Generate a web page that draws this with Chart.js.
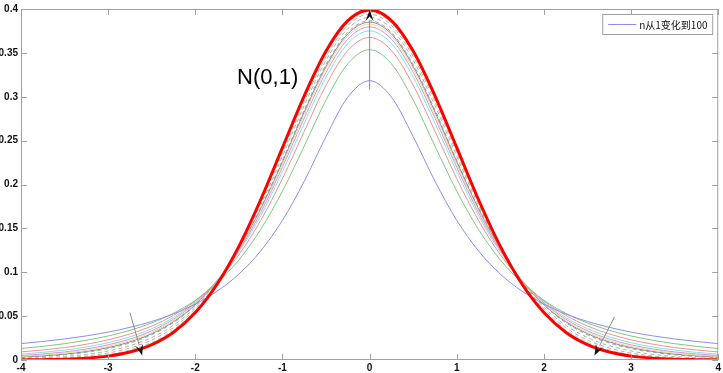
<!DOCTYPE html>
<html>
<head>
<meta charset="utf-8">
<script src="https://cdn.jsdelivr.net/npm/chart.js@4"></script>
<style>
  body { margin: 0; background: #fff; }
  #wrap { width: 723px; height: 373px; }
</style>
</head>
<body>
<div id="wrap"><canvas id="tChart"></canvas></div>
<script>
const xValues = [-4,-3.75,-3.5,-3.25,-3,-2.75,-2.5,-2.25,-2,-1.75,-1.5,-1.25,-1,-0.75,-0.5,-0.25,0,0.25,0.5,0.75,1,1.25,1.5,1.75,2,2.25,2.5,2.75,3,3.25,3.5,3.75,4];

const normal = [0.0001,0.0004,0.0009,0.0020,0.0044,0.0091,0.0175,0.0317,0.0540,0.0863,0.1295,0.1826,0.2420,0.3011,0.3521,0.3867,0.3989,0.3867,0.3521,0.3011,0.2420,0.1826,0.1295,0.0863,0.0540,0.0317,0.0175,0.0091,0.0044,0.0020,0.0009,0.0004,0.0001];
const tN1 = [0.0187,0.0211,0.0240,0.0275,0.0318,0.0372,0.0439,0.0525,0.0637,0.0784,0.0979,0.1242,0.1592,0.2037,0.2546,0.2996,0.3183,0.2996,0.2546,0.2037,0.1592,0.1242,0.0979,0.0784,0.0637,0.0525,0.0439,0.0372,0.0318,0.0275,0.0240,0.0211,0.0187];
const tN2 = [0.0131,0.0155,0.0186,0.0225,0.0274,0.0338,0.0422,0.0533,0.0680,0.0878,0.1141,0.1487,0.1925,0.2438,0.2963,0.3376,0.3536,0.3376,0.2963,0.2438,0.1925,0.1487,0.1141,0.0878,0.0680,0.0533,0.0422,0.0338,0.0274,0.0225,0.0186,0.0155,0.0131];
const tN3 = [0.0092,0.0114,0.0142,0.0180,0.0230,0.0297,0.0387,0.0509,0.0675,0.0900,0.1200,0.1589,0.2067,0.2606,0.3132,0.3527,0.3676,0.3527,0.3132,0.2606,0.2067,0.1589,0.1200,0.0900,0.0675,0.0509,0.0387,0.0297,0.0230,0.0180,0.0142,0.0114,0.0092];
const tN4 = [0.0067,0.0087,0.0113,0.0148,0.0197,0.0264,0.0357,0.0485,0.0663,0.0905,0.1229,0.1644,0.2147,0.2699,0.3223,0.3607,0.3750,0.3607,0.3223,0.2699,0.2147,0.1644,0.1229,0.0905,0.0663,0.0485,0.0357,0.0264,0.0197,0.0148,0.0113,0.0087,0.0067];
const tN5 = [0.0051,0.0069,0.0092,0.0126,0.0173,0.0239,0.0333,0.0466,0.0651,0.0905,0.1245,0.1679,0.2197,0.2757,0.3279,0.3657,0.3796,0.3657,0.3279,0.2757,0.2197,0.1679,0.1245,0.0905,0.0651,0.0466,0.0333,0.0239,0.0173,0.0126,0.0092,0.0069,0.0051];
const tN6 = [0.0041,0.0056,0.0078,0.0110,0.0155,0.0220,0.0315,0.0450,0.0640,0.0904,0.1256,0.1703,0.2231,0.2797,0.3318,0.3691,0.3827,0.3691,0.3318,0.2797,0.2231,0.1703,0.1256,0.0904,0.0640,0.0450,0.0315,0.0220,0.0155,0.0110,0.0078,0.0056,0.0041];
const tN7 = [0.0033,0.0047,0.0067,0.0097,0.0141,0.0206,0.0300,0.0437,0.0631,0.0902,0.1263,0.1720,0.2257,0.2826,0.3346,0.3716,0.3850,0.3716,0.3346,0.2826,0.2257,0.1720,0.1263,0.0902,0.0631,0.0437,0.0300,0.0206,0.0141,0.0097,0.0067,0.0047,0.0033];
const tN8 = [0.0028,0.0040,0.0059,0.0088,0.0130,0.0194,0.0288,0.0426,0.0624,0.0899,0.1268,0.1733,0.2276,0.2848,0.3367,0.3734,0.3867,0.3734,0.3367,0.2848,0.2276,0.1733,0.1268,0.0899,0.0624,0.0426,0.0288,0.0194,0.0130,0.0088,0.0059,0.0040,0.0028];
const tN12 = [0.0016,0.0025,0.0040,0.0064,0.0103,0.0163,0.0256,0.0396,0.0602,0.0891,0.1278,0.1763,0.2322,0.2900,0.3416,0.3776,0.3906,0.3776,0.3416,0.2900,0.2322,0.1763,0.1278,0.0891,0.0602,0.0396,0.0256,0.0163,0.0103,0.0064,0.0040,0.0025,0.0016];
const tN20 = [0.0008,0.0015,0.0026,0.0046,0.0080,0.0136,0.0227,0.0369,0.0581,0.0883,0.1286,0.1788,0.2361,0.2944,0.3458,0.3813,0.3940,0.3813,0.3458,0.2944,0.2361,0.1788,0.1286,0.0883,0.0581,0.0369,0.0227,0.0136,0.0080,0.0046,0.0026,0.0015,0.0008];
const tN40 = [0.0004,0.0008,0.0017,0.0033,0.0062,0.0114,0.0202,0.0345,0.0562,0.0874,0.1291,0.1808,0.2390,0.2978,0.3490,0.3840,0.3965,0.3840,0.3490,0.2978,0.2390,0.1808,0.1291,0.0874,0.0562,0.0345,0.0202,0.0114,0.0062,0.0033,0.0017,0.0008,0.0004];

const xTicks = [-4,-3,-2,-1,0,1,2,3,4];
const yTicks = [0,0.05,0.1,0.15,0.2,0.25,0.3,0.35,0.4];

const legendText = "n从1变化到100";
const normalLabel = "N(0,1)";
const labelPos = [-1.17, 0.321];
// arrows: [fromX, fromY, toX, toY]
const arrows = [
    [0, 0.308, 0, 0.399],
    [-2.75, 0.054, -2.61, 0.005],
    [2.81, 0.049, 2.58, 0.005]
];

const tCurves = [tN1, tN2, tN3, tN4, tN5, tN6, tN7, tN8, tN12, tN20, tN40];
const lineColors = ["#8c8cf2", "#80c680", "#f29090", "#80e4e4", "#e48ce4", "#e2e288", "#8a8a8a", "#9a9ae0", "#90c890", "#e0a0a0", "#90d8d8"];
const dashes = [[], [], [], [], [], [], [], [4, 3], [4, 3], [4, 3], [4, 3]];

function toPoints(values) {
    return values.map((v, i) => ({ x: xValues[i], y: v }));
}

const datasets = [{
    label: "N(0,1)",
    data: toPoints(normal),
    borderColor: "#ff0000",
    borderWidth: 3,
    pointRadius: 0,
    cubicInterpolationMode: "monotone"
}];
tCurves.forEach((vals, i) => {
    datasets.push({
        label: "t" + i,
        data: toPoints(vals),
        borderColor: lineColors[i],
        borderWidth: 1,
        borderDash: dashes[i],
        pointRadius: 0,
        cubicInterpolationMode: "monotone"
    });
});

function drawArrow(ctx, x1, y1, x2, y2) {
    const ang = Math.atan2(y2 - y1, x2 - x1);
    const len = 11, half = 4;
    const bx = x2 - len * Math.cos(ang), by = y2 - len * Math.sin(ang);
    ctx.strokeStyle = "#8a8a8a";
    ctx.lineWidth = 1;
    ctx.beginPath();
    ctx.moveTo(x1, y1);
    ctx.lineTo(bx, by);
    ctx.stroke();
    ctx.fillStyle = "#111";
    ctx.beginPath();
    ctx.moveTo(x2, y2);
    ctx.lineTo(bx + half * Math.sin(ang), by - half * Math.cos(ang));
    ctx.lineTo(x2 - 0.6 * len * Math.cos(ang), y2 - 0.6 * len * Math.sin(ang));
    ctx.lineTo(bx - half * Math.sin(ang), by + half * Math.cos(ang));
    ctx.closePath();
    ctx.fill();
}

const framePlugin = {
    id: "frame",
    afterDraw(chart) {
        const ctx = chart.ctx;
        const a = chart.chartArea;
        const xs = chart.scales.x, ys = chart.scales.y;
        ctx.save();
        ctx.strokeStyle = "#a0a0a0";
        ctx.lineWidth = 1;
        ctx.strokeRect(a.left + 0.5, a.top + 0.5, a.right - a.left - 1, a.bottom - a.top - 1);
        ctx.beginPath();
        xTicks.forEach(t => {
            const px = Math.round(xs.getPixelForValue(t)) + 0.5;
            ctx.moveTo(px, a.bottom); ctx.lineTo(px, a.bottom - 6);
            ctx.moveTo(px, a.top); ctx.lineTo(px, a.top + 6);
        });
        yTicks.forEach(t => {
            const py = Math.round(ys.getPixelForValue(t)) + 0.5;
            ctx.moveTo(a.left, py); ctx.lineTo(a.left + 6, py);
            ctx.moveTo(a.right, py); ctx.lineTo(a.right - 6, py);
        });
        ctx.stroke();

        arrows.forEach(r => {
            drawArrow(ctx, xs.getPixelForValue(r[0]), ys.getPixelForValue(r[1]),
                xs.getPixelForValue(r[2]), ys.getPixelForValue(r[3]));
        });

        ctx.fillStyle = "#000";
        ctx.font = "22px 'Liberation Sans', Arial, sans-serif";
        ctx.textAlign = "center";
        ctx.textBaseline = "middle";
        ctx.fillText(normalLabel, xs.getPixelForValue(labelPos[0]), ys.getPixelForValue(labelPos[1]));

        // legend box
        const lx = a.right - 116, ly = a.top + 5;
        ctx.fillStyle = "#fff";
        ctx.fillRect(lx, ly, 110, 20);
        ctx.strokeStyle = "#a0a0a0";
        ctx.strokeRect(lx + 0.5, ly + 0.5, 110, 20);
        ctx.strokeStyle = lineColors[0];
        ctx.beginPath();
        ctx.moveTo(lx + 6, ly + 10.5);
        ctx.lineTo(lx + 34, ly + 10.5);
        ctx.stroke();
        ctx.fillStyle = "#111";
        ctx.font = "10px 'Noto Sans CJK SC', sans-serif";
        ctx.textAlign = "left";
        ctx.fillText(legendText, lx + 37, ly + 11);
        ctx.restore();
    }
};

new Chart(document.getElementById("tChart"), {
    type: "line",
    data: { datasets: datasets },
    options: {
        responsive: true,
        maintainAspectRatio: false,
        animation: false,
        layout: { padding: { top: 8, right: 4, left: 0, bottom: 0 } },
        plugins: {
            legend: { display: false },
            tooltip: { enabled: false }
        },
        scales: {
            x: {
                type: "linear",
                min: -4,
                max: 4,
                afterFit: s => { s.height = 13; },
                afterBuildTicks: s => { s.ticks = xTicks.map(v => ({ value: v })); },
                grid: { display: false, drawTicks: false },
                border: { display: false },
                ticks: {
                    padding: 2,
                    color: "#111",
                    font: { size: 10, weight: "bold", family: "'Liberation Sans', Arial, sans-serif" },
                    callback: v => String(v)
                }
            },
            y: {
                min: 0,
                max: 0.4,
                afterFit: s => { s.width = 21; },
                afterBuildTicks: s => { s.ticks = yTicks.map(v => ({ value: v })); },
                grid: { display: false, drawTicks: false },
                border: { display: false },
                ticks: {
                    padding: 3,
                    color: "#111",
                    font: { size: 10, weight: "bold", family: "'Liberation Sans', Arial, sans-serif" },
                    callback: v => String(Number(v.toFixed(2)))
                }
            }
        }
    },
    plugins: [framePlugin]
});
</script>
</body>
</html>
